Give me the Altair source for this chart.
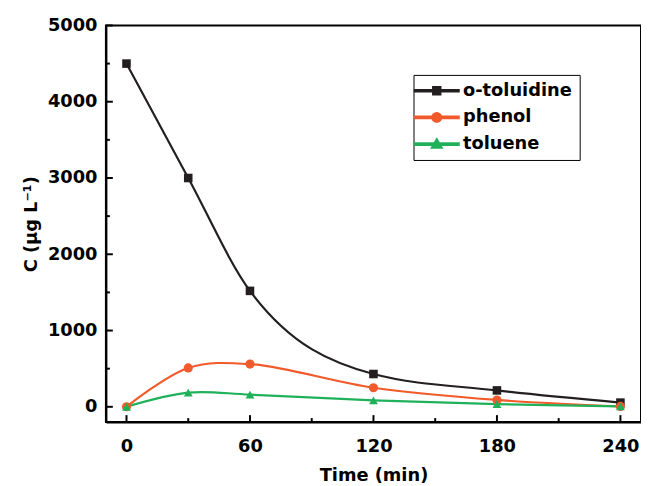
import altair as alt
import pandas as pd

# ---- data ----
time = [0, 30, 60, 120, 180, 240]
series = ["o-toluidine", "phenol", "toluene"]
o_toluidine = [4500, 3000, 1520, 430, 215, 55]
phenol = [0, 510, 560, 250, 90, 5]
toluene = [0, 185, 160, 85, 35, 5]
colors = ["#231f20", "#f15a2b", "#1fb15a"]
marker_shapes = ["square", "circle", "triangle-up"]
x_ticks = [0, 60, 120, 180, 240]
x_minor = [30, 90, 150, 210]
y_ticks = [0, 1000, 2000, 3000, 4000, 5000]
y_minor = [500, 1500, 2500, 3500, 4500]

FONT = "DejaVu Sans"
W, H = 541, 401

rows = []
for name, vals in zip(series, [o_toluidine, phenol, toluene]):
    for t, v in zip(time, vals):
        rows.append({"time": t, "C": v, "series": name})
df = pd.DataFrame(rows)

# legend symbols: line + marker as custom paths
legend_paths = [
    "M-3,-0.22H6V0.22H-3Z M0.7,-0.8H2.3V0.8H0.7Z",
    "M-3,-0.22H6V0.22H-3Z M2.45,0A0.95,0.95,0,1,1,0.55,0A0.95,0.95,0,1,1,2.45,0Z",
    "M-3,-0.22H6V0.22H-3Z M1.5,-1.1L2.6,0.8H0.4Z",
]

xscale = alt.Scale(domain=[-10, 250], nice=False, zero=False)
yscale = alt.Scale(domain=[-200, 5000], nice=False, zero=False)
cscale = alt.Scale(domain=series, range=colors)
sscale = alt.Scale(domain=series, range=legend_paths)

x_enc = alt.X("time:Q", scale=xscale,
              axis=alt.Axis(values=x_ticks, title="Time (min)", grid=False, ticks=False,
                            labelPadding=16, titlePadding=11, format="d"))
y_enc = alt.Y("C:Q", scale=yscale,
              axis=alt.Axis(values=y_ticks, title="C (μg L⁻¹)", grid=False, ticks=False,
                            labelPadding=9, titlePadding=7, format="d"))

base = alt.Chart(df)

# legend-only layer: drawn off-canvas and clipped, provides the legend
legend_layer = base.mark_point(filled=True, opacity=1, size=100, clip=True).encode(
    x=alt.value(-2000), y=alt.value(-2000),
    color=alt.Color("series:N", scale=cscale, title=None),
    shape=alt.Shape("series:N", scale=sscale, title=None),
)

line_layers = []
interp = ["monotone", "catmull-rom", "catmull-rom"]
for name, ip in zip(series, interp):
    line_layers.append(
        base.transform_filter(alt.datum.series == name)
        .mark_line(interpolate=ip, strokeWidth=2.2)
        .encode(x=x_enc, y=y_enc,
                color=alt.Color("series:N", scale=cscale, title=None))
    )

pts = []
for name, shp, sz in zip(series, marker_shapes, [75, 85, 80]):
    pts.append(
        base.transform_filter(alt.datum.series == name)
        .mark_point(shape=shp, filled=True, opacity=1, size=sz)
        .encode(x="time:Q", y="C:Q",
                color=alt.Color("series:N", scale=cscale, title=None))
    )

# inward ticks
tick_y = pd.DataFrame({"v": y_ticks})
tick_ym = pd.DataFrame({"v": y_minor})
tick_x = pd.DataFrame({"v": x_ticks})
tick_xm = pd.DataFrame({"v": x_minor})

yt = alt.Chart(tick_y).mark_rule(color="black", strokeWidth=2).encode(
    y=alt.Y("v:Q", scale=yscale), x=alt.value(0), x2=alt.value(7))
ytm = alt.Chart(tick_ym).mark_rule(color="black", strokeWidth=2).encode(
    y=alt.Y("v:Q", scale=yscale), x=alt.value(0), x2=alt.value(4))
xt = alt.Chart(tick_x).mark_rule(color="black", strokeWidth=2).encode(
    x=alt.X("v:Q", scale=xscale), y=alt.value(H), y2=alt.value(H - 7))
xtm = alt.Chart(tick_xm).mark_rule(color="black", strokeWidth=2).encode(
    x=alt.X("v:Q", scale=xscale), y=alt.value(H), y2=alt.value(H - 4))

chart = alt.layer(legend_layer, *line_layers, *pts, yt, ytm, xt, xtm).properties(
    width=W, height=H,
    autosize=alt.AutoSizeParams(type="none"),
    padding={"left": 99, "top": 15, "right": 0, "bottom": 62},
).configure_view(
    stroke="black", strokeWidth=2
).configure_axis(
    domainColor="black", domainWidth=2,
    labelFont=FONT, labelFontSize=18, labelFontWeight="bold", labelColor="black",
    titleFont=FONT, titleFontSize=18, titleFontWeight="bold", titleColor="black",
).configure_legend(
    orient="none", legendX=311, legendY=50,
    strokeColor="black", padding=7,
    labelFont=FONT, labelFontSize=18, labelFontWeight="bold", labelColor="black",
    symbolSize=100, labelOffset=25, rowPadding=9, symbolOpacity=1,
)

chart.save("out.html", embed_options={"renderer": "svg", "actions": False})
